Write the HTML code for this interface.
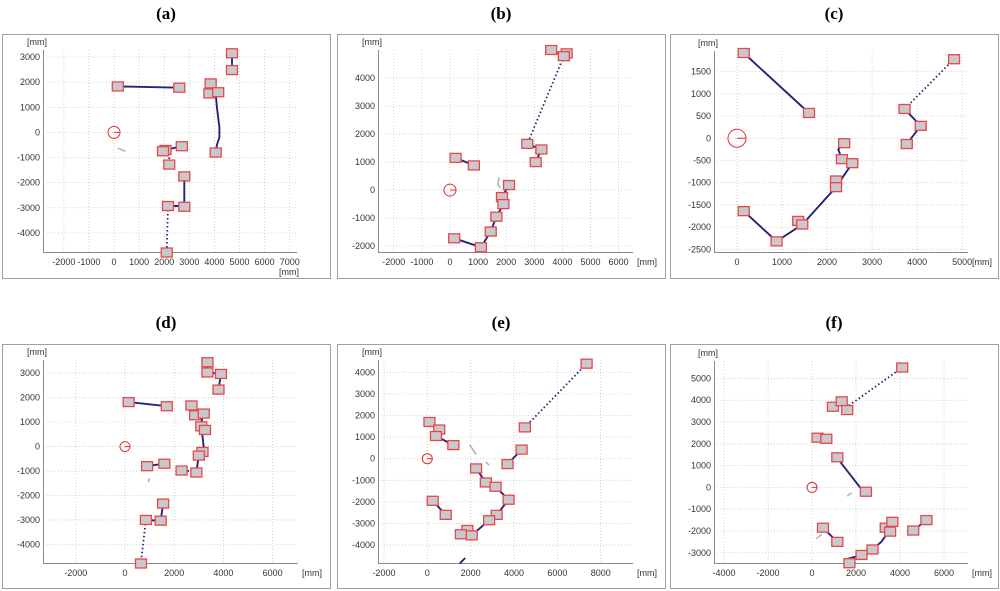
<!DOCTYPE html>
<html><head><meta charset="utf-8">
<style>
body{margin:0;background:#fff;width:1000px;height:591px;overflow:hidden}
svg{display:block}
text{font-family:"Liberation Sans",sans-serif}
.ttl{font-family:"Liberation Serif",serif;font-weight:bold;font-size:17px}
</style></head><body>
<svg id="fig" width="1000" height="591" viewBox="0 0 1000 591" xmlns="http://www.w3.org/2000/svg">
<text class="ttl" x="166" y="19" text-anchor="middle">(a)</text>
<text class="ttl" x="501" y="19" text-anchor="middle">(b)</text>
<text class="ttl" x="834" y="19" text-anchor="middle">(c)</text>
<text class="ttl" x="166" y="328" text-anchor="middle">(d)</text>
<text class="ttl" x="501" y="328" text-anchor="middle">(e)</text>
<text class="ttl" x="834" y="328" text-anchor="middle">(f)</text>
</svg>
<script>
// ---- data (mm) ----
const aXTicks=[-2000,-1000,0,1000,2000,3000,4000,5000,6000,7000];
const aYTicks=[-4000,-3000,-2000,-1000,0,1000,2000,3000];
const aSquares=[[150,1830],[2600,1780],[3850,1950],[3800,1550],[4150,1600],[4700,3150],[4700,2480],[4050,-800],[2700,-550],[2050,-700],[1950,-750],[2200,-1280],[2800,-1750],[2150,-2930],[2800,-2960],[2100,-4780]];
const aSolid=[[[150,1830],[2600,1780]],[[4700,3150],[4700,2480]],[[3850,1950],[3650,1750],[3800,1550]],[[4050,1550],[4100,1000],[4200,200],[4200,-200],[4100,-500],[4050,-800]],[[2700,-550],[2050,-700]],[[2800,-1750],[2800,-2930],[2150,-2930]]];
const aDotted=[[[2200,-1000],[2200,-1280]],[[2150,-2930],[2100,-4750]]];
const aGray=[[[150,-620],[450,-750]]];

const bXTicks=[-2000,-1000,0,1000,2000,3000,4000,5000,6000];
const bYTicks=[-2000,-1000,0,1000,2000,3000,4000];
const bSquares=[[3600,5000],[4150,4880],[4050,4780],[2750,1650],[3250,1450],[3050,1000],[200,1150],[850,880],[2100,180],[1850,-250],[1900,-500],[1650,-950],[1450,-1480],[150,-1720],[1100,-2040]];
const bSolid=[[[3600,5000],[4050,4780]],[[2750,1650],[3250,1450],[3050,1000]],[[200,1150],[850,880]],[[2100,180],[1850,-250],[1900,-500],[1650,-950],[1450,-1480],[1100,-2040],[150,-1720]]];
const bDotted=[[[4050,4780],[2750,1650]]];
const bGray=[[[1750,450],[1700,200],[1800,80]]];

const cXTicks=[0,1000,2000,3000,4000,5000];
const cYTicks=[-2500,-2000,-1500,-1000,-500,0,500,1000,1500];
const cSquares=[[150,1920],[1600,570],[4820,1780],[3720,660],[4080,280],[3770,-130],[2380,-110],[2330,-470],[2560,-560],[2200,-950],[2200,-1100],[150,-1640],[880,-2320],[1360,-1860],[1450,-1940]];
const cSolid=[[[150,1920],[1600,570]],[[3720,660],[4080,280],[3770,-130]],[[2380,-110],[2250,-250],[2330,-470]],[[2560,-560],[2200,-1100],[1450,-1940],[880,-2320],[150,-1640]]];
const cDotted=[[[4820,1780],[3720,660]]];
const cGray=[];

const dXTicks=[-2000,0,2000,4000,6000];
const dYTicks=[-4000,-3000,-2000,-1000,0,1000,2000,3000];
const dSquares=[[3350,3450],[3350,3030],[3900,2970],[3800,2330],[150,1820],[1700,1650],[2700,1680],[2850,1280],[3200,1350],[3100,830],[3250,680],[3150,-220],[3000,-370],[2900,-1060],[2300,-980],[900,-800],[1600,-700],[1550,-2330],[850,-3000],[1450,-3030],[650,-4780]];
const dSolid=[[[3350,3450],[3350,3030],[3900,2970],[3800,2330]],[[150,1820],[1700,1650]],[[2700,1680],[2850,1280]],[[3150,1350],[3100,830],[3200,0],[3150,-220],[3000,-370],[2900,-1060]],[[900,-800],[1600,-700]],[[1550,-2330],[1450,-3030],[850,-3000]]];
const dDotted=[[[2600,-1000],[2300,-980]],[[850,-3000],[650,-4700]]];
const dGray=[[[1000,-1300],[950,-1450]]];

const eXTicks=[-2000,0,2000,4000,6000,8000];
const eYTicks=[-4000,-3000,-2000,-1000,0,1000,2000,3000,4000];
const eSquares=[[7350,4400],[4500,1450],[100,1700],[550,1350],[400,1050],[1200,630],[4350,420],[3700,-250],[2250,-450],[2700,-1100],[3150,-1300],[3750,-1900],[3200,-2600],[2850,-2850],[1850,-3300],[1550,-3500],[2050,-3550],[250,-1950],[850,-2600]];
const eSolid=[[[550,1350],[400,1050],[1200,630]],[[4350,420],[3700,-250]],[[2250,-450],[2700,-1100],[3150,-1300],[3750,-1900],[3200,-2600],[2850,-2850],[2050,-3550]],[[1850,-3300],[1550,-3500]],[[250,-1950],[850,-2600]],[[1500,-4850],[1750,-4600]]];
const eDotted=[[[7350,4400],[4500,1450]]];
const eGray=[[[1950,650],[2250,200]],[[2700,-150],[2850,-300]]];

const fXTicks=[-4000,-2000,0,2000,4000,6000];
const fYTicks=[-3000,-2000,-1000,0,1000,2000,3000,4000,5000];
const fSquares=[[4100,5500],[950,3700],[1350,3950],[1600,3550],[250,2280],[650,2230],[1150,1380],[2450,-200],[500,-1850],[1150,-2500],[3350,-1850],[3650,-1580],[3550,-2030],[5200,-1500],[4600,-1980],[2750,-2850],[2250,-3100],[1700,-3480]];
const fSolid=[[[150,2500],[250,2280]],[[1300,1150],[2300,-150]],[[500,-1850],[1150,-2500]],[[1550,-3300],[2250,-3100],[2750,-2850],[3150,-2500],[3400,-2150],[3600,-1580]],[[4600,-1980],[5200,-1500]]];
const fDotted=[[[4100,5500],[1600,3700]]];
const fGray=[[[1600,-400],[1800,-250]],[[200,-2350],[450,-2150]]];

// ---- layout (pixels; not data) ----
const panelDefs=[
 {id:'a',frame:[2,34,328,244],plot:[43,50,297,252],xd:[-2830,7290],yd:[-4760,3280],xs:aXTicks,ys:aYTicks,sq:aSquares,so:aSolid,do:aDotted,gr:aGray,cr:6,mmX:'below'},
 {id:'b',frame:[337,34,328,244],plot:[378,50,633,252],xd:[-2560,6510],yd:[-2210,5000],xs:bXTicks,ys:bYTicks,sq:bSquares,so:bSolid,do:bDotted,gr:bGray,cr:6,mmX:'right'},
 {id:'c',frame:[670,34,328,244],plot:[714,51,968,252],xd:[-510,5130],yd:[-2560,1965],xs:cXTicks,ys:cYTicks,sq:cSquares,so:cSolid,do:cDotted,gr:cGray,cr:9,mmX:'right'},
 {id:'d',frame:[2,344,328,244],plot:[43,360,298,563],xd:[-3330,7030],yd:[-4760,3540],xs:dXTicks,ys:dYTicks,sq:dSquares,so:dSolid,do:dDotted,gr:dGray,cr:5,mmX:'right'},
 {id:'e',frame:[337,344,328,244],plot:[378,360,633,563],xd:[-2275,9490],yd:[-4830,4570],xs:eXTicks,ys:eYTicks,sq:eSquares,so:eSolid,do:eDotted,gr:eGray,cr:5,mmX:'right'},
 {id:'f',frame:[670,344,328,244],plot:[714,361,968,563],xd:[-4455,7090],yd:[-3470,5800],xs:fXTicks,ys:fYTicks,sq:fSquares,so:fSolid,do:fDotted,gr:fGray,cr:5,mmX:'right'}
];
const NS='http://www.w3.org/2000/svg';
const svg=document.getElementById('fig');
function mk(tag,attrs,parent){const e=document.createElementNS(NS,tag);for(const k in attrs)e.setAttribute(k,attrs[k]);(parent||svg).appendChild(e);return e;}
panelDefs.forEach(p=>{
  const g=mk('g',{});
  
  
  const [L,T,R,B]=p.plot;
  const sx=v=>L+(v-p.xd[0])/(p.xd[1]-p.xd[0])*(R-L);
  const sy=v=>B-(v-p.yd[0])/(p.yd[1]-p.yd[0])*(B-T);
  const fr=mk('rect',{x:p.frame[0]+.5,y:p.frame[1]+.5,width:p.frame[2],height:p.frame[3],fill:'#fff',stroke:'#a0a0a0','stroke-width':1},g);
  
  
  p.xs.forEach(v=>{
    const x=sx(v);
    const gl=mk('line',{x1:x,y1:T,x2:x,y2:B,stroke:'#c8c8c8','stroke-width':.8,'stroke-dasharray':'1,2'},g);
    
    
    const t=mk('text',{x:x,y:B+13,'font-size':9,'text-anchor':'middle',fill:'#333'},g);
    t.textContent=v;
    
    
  });
  p.ys.forEach(v=>{
    const y=sy(v);
    const gl=mk('line',{x1:L,y1:y,x2:R,y2:y,stroke:'#c8c8c8','stroke-width':.8,'stroke-dasharray':'1,2'},g);
    
    
    const t=mk('text',{x:L-3,y:y+3,'font-size':9,'text-anchor':'end',fill:'#333'},g);
    t.textContent=v;
    
    
  });
  const ax=mk('path',{d:`M${L+.5},${T} V${B+.5} H${R}`,fill:'none',stroke:'#8a8a8a','stroke-width':1},g);
  
  
  const yu=mk('text',{x:L-6,y:T-5,'font-size':9,'text-anchor':'middle',fill:'#333'},g);
  yu.textContent='[mm]';
  
  
  const xu=mk('text',p.mmX==='below'?{x:R-8,y:B+23,'font-size':9,'text-anchor':'middle',fill:'#333'}:{x:R+4,y:B+13,'font-size':9,'text-anchor':'start',fill:'#333'},g);
  xu.textContent='[mm]';
  
  
  const pts=a=>a.map(q=>sx(q[0]).toFixed(1)+','+sy(q[1]).toFixed(1)).join(' ');
  p.gr.forEach(a=>{const e=mk('polyline',{points:pts(a),fill:'none',stroke:'#b0b0b0','stroke-width':1.5},g);
    
    });
  p.so.forEach(a=>{const e=mk('polyline',{points:pts(a),fill:'none',stroke:'#24247a','stroke-width':1.9},g);
    
    });
  p.do.forEach(a=>{const e=mk('polyline',{points:pts(a),fill:'none',stroke:'#24247a','stroke-width':1.8,'stroke-dasharray':'1.5,2.5'},g);
    
    });
  const ox=sx(0),oy=sy(0);
  const c=mk('circle',{cx:ox,cy:oy,r:p.cr,fill:'none',stroke:'#e03030','stroke-width':1},g);
  
  
  const cl=mk('line',{x1:ox,y1:oy,x2:ox+p.cr,y2:oy,stroke:'#e03030','stroke-width':1},g);
  
  
  p.sq.forEach(q=>{
    const r=mk('rect',{x:sx(q[0])-5.5,y:sy(q[1])-4.5,width:11,height:9,fill:'#c9c9cd',stroke:'#e8474a','stroke-width':1.3},g);
    
    
  });
});
</script>
</body></html>
